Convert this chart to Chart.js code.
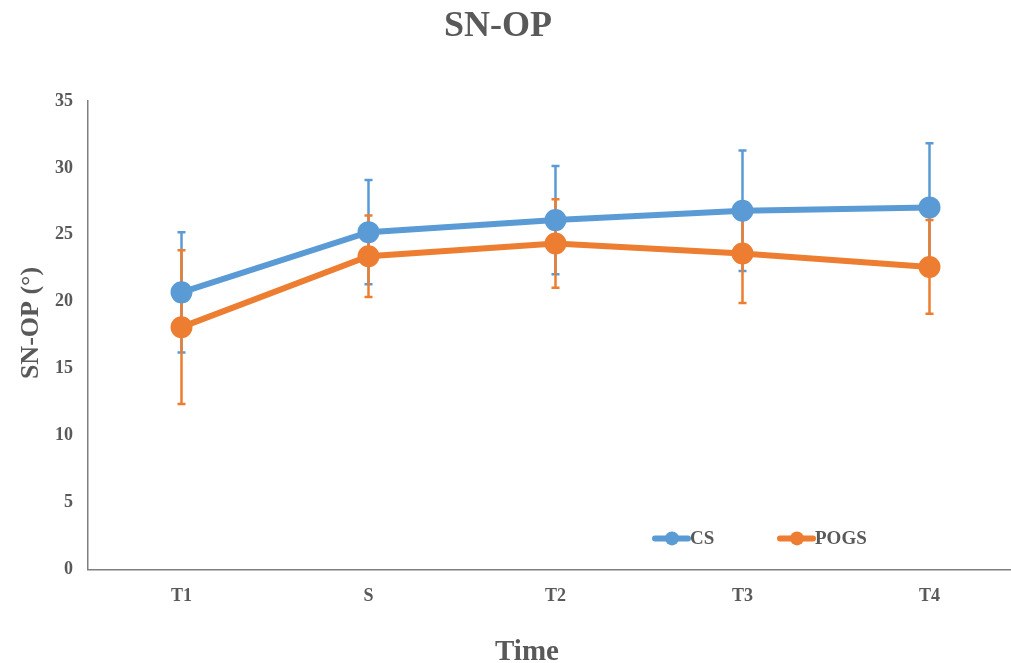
<!DOCTYPE html>
<html>
<head>
<meta charset="utf-8">
<script src="https://cdn.jsdelivr.net/npm/chart.js@4/dist/chart.umd.min.js"></script>
<style>
  html, body { margin: 0; padding: 0; background: #fff; overflow: hidden; }
  #wrap { width: 1037px; height: 663px; }
</style>
</head>
<body>
<div id="wrap"><canvas id="diagram" width="1037" height="663"></canvas></div>
<script>
const chartTitle = "SN-OP";
const xTitle = "Time";
const yTitle = "SN-OP (°)";
const times = ["T1", "S", "T2", "T3", "T4"];
const csMean = [20.7, 25.2, 26.1, 26.8, 27.05];
const csErr = [4.5, 3.9, 4.05, 4.5, 4.8];
const pogsMean = [18.1, 23.4, 24.35, 23.6, 22.6];
const pogsErr = [5.75, 3.05, 3.3, 3.7, 3.5];

const blue = "#5B9BD5";
const orange = "#ED7D31";
const grey = "#595959";
const serif = "'Liberation Serif', 'DejaVu Serif', serif";

// error bars, drawn under the lines
const errorBars = {
    id: "errorBars",
    beforeDatasetsDraw(chart) {
        const ctx = chart.ctx;
        const y = chart.scales.y;
        chart.data.datasets.forEach((ds, i) => {
            const meta = chart.getDatasetMeta(i);
            ctx.save();
            ctx.strokeStyle = ds.borderColor;
            ctx.lineWidth = 2.5;
            meta.data.forEach((pt, j) => {
                const top = y.getPixelForValue(ds.data[j] + ds.errors[j]);
                const bot = y.getPixelForValue(ds.data[j] - ds.errors[j]);
                ctx.beginPath();
                ctx.moveTo(pt.x, top);
                ctx.lineTo(pt.x, bot);
                ctx.moveTo(pt.x - 4, top);
                ctx.lineTo(pt.x + 4, top);
                ctx.moveTo(pt.x - 4, bot);
                ctx.lineTo(pt.x + 4, bot);
                ctx.stroke();
            });
            ctx.restore();
        });
    }
};

// titles placed over the visible page, legend inside the plot (lower right)
const decorations = {
    id: "decorations",
    afterDraw(chart) {
        const ctx = chart.ctx;
        const area = chart.chartArea;
        ctx.save();
        ctx.fillStyle = grey;
        ctx.textAlign = "center";
        ctx.textBaseline = "middle";
        ctx.font = "bold 36px " + serif;
        ctx.fillText(chartTitle, 498, 27);
        ctx.font = "bold 29px " + serif;
        ctx.fillText(xTitle, 527, 653);
        ctx.save();
        ctx.translate(31, 323);
        ctx.rotate(-Math.PI / 2);
        ctx.font = "bold 26px " + serif;
        ctx.fillText(yTitle, 0, 0);
        ctx.restore();

        const starts = [655, 780];
        const ly = area.bottom - 31;
        ctx.font = "bold 19px " + serif;
        ctx.textAlign = "left";
        chart.data.datasets.forEach((ds, i) => {
            const x = starts[i];
            ctx.strokeStyle = ds.borderColor;
            ctx.fillStyle = ds.borderColor;
            ctx.lineWidth = 6;
            ctx.lineCap = "round";
            ctx.beginPath();
            ctx.moveTo(x, ly);
            ctx.lineTo(x + 33, ly);
            ctx.stroke();
            ctx.beginPath();
            ctx.arc(x + 17, ly, 7, 0, Math.PI * 2);
            ctx.fill();
            ctx.fillStyle = grey;
            ctx.fillText(ds.label, x + 35, ly + 1);
        });
        ctx.restore();
    }
};

new Chart(document.getElementById("diagram"), {
    type: "line",
    data: {
        labels: times,
        datasets: [
            {
                label: "CS",
                data: csMean,
                errors: csErr,
                borderColor: blue,
                backgroundColor: blue,
                borderWidth: 6,
                pointRadius: 8,
                pointHoverRadius: 8,
                tension: 0
            },
            {
                label: "POGS",
                data: pogsMean,
                errors: pogsErr,
                borderColor: orange,
                backgroundColor: orange,
                borderWidth: 6,
                pointRadius: 8,
                pointHoverRadius: 8,
                tension: 0
            }
        ]
    },
    options: {
        responsive: false,
        animation: false,
        layout: { padding: { left: 40, right: 0, top: 101, bottom: 40 } },
        plugins: {
            legend: { display: false },
            tooltip: { enabled: false },
            title: { display: false }
        },
        scales: {
            x: {
                offset: true,
                grid: { display: false, drawTicks: false },
                border: { color: "#7f7f7f", width: 1.5 },
                ticks: {
                    color: grey,
                    padding: 16,
                    font: { family: serif, size: 18, weight: "bold" }
                }
            },
            y: {
                min: 0,
                max: 35,
                grid: { display: false, drawTicks: false },
                border: { color: "#7f7f7f", width: 1.5 },
                ticks: {
                    stepSize: 5,
                    color: grey,
                    padding: 15,
                    font: { family: serif, size: 18, weight: "bold" }
                }
            }
        }
    },
    plugins: [errorBars, decorations]
});
</script>
</body>
</html>
